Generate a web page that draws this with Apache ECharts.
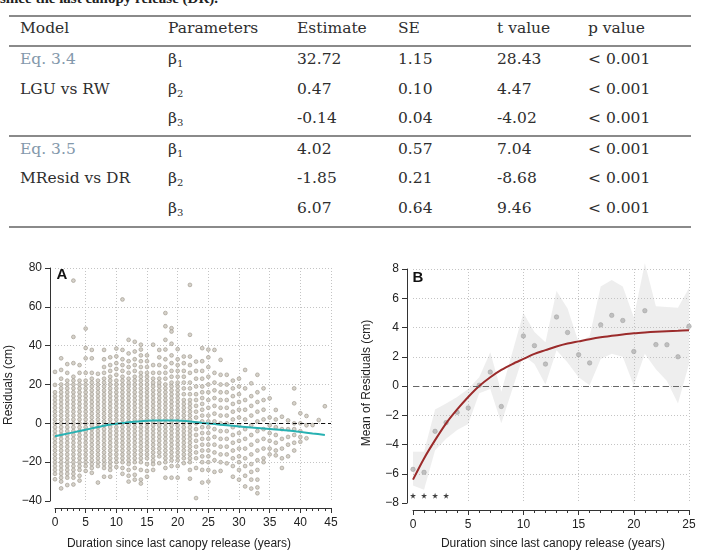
<!DOCTYPE html>
<html>
<head>
<meta charset="utf-8">
<script src="https://cdn.jsdelivr.net/npm/echarts@6/dist/echarts.min.js"></script>
<style>
body { margin: 0; background: #fff; }
#page { position: relative; width: 701px; height: 551px; overflow: hidden; font-family: "DejaVu Serif", serif; color: #2e2e2e; }
.cell { position: absolute; font-size: 15.5px; line-height: 18px; white-space: nowrap; transform: translateY(-50%); }
.eq { color: #8398ab; }
.rule { position: absolute; left: 9px; width: 682px; height: 2px; background: #8a8a8a; }
sub { font-size: 10px; line-height: 0; vertical-align: -3px; }
#cut { position: absolute; left: 0; top: -9px; font: bold 15px "Liberation Serif", serif; line-height: 15px; color: #222; white-space: nowrap; }
#chart { position: absolute; left: 0; top: 0; width: 701px; height: 551px; }
</style>
</head>
<body>
<div id="page">
  <div id="cut">since the last canopy release (DR).</div>
  <div id="table"></div>
  <div id="chart"></div>
</div>
<script>
// table
const tableHeader = ["Model", "Parameters", "Estimate", "SE", "t value", "p value"];
const tableModel = ["Eq. 3.4", "LGU vs RW", "", "Eq. 3.5", "MResid vs DR", ""];
const tableParam = ["1", "2", "3", "1", "2", "3"];
const tableEstimate = ["32.72", "0.47", "-0.14", "4.02", "-1.85", "6.07"];
const tableSE = ["1.15", "0.10", "0.04", "0.57", "0.21", "0.64"];
const tableT = ["28.43", "4.47", "-4.02", "7.04", "-8.68", "9.46"];
const tableP = ["< 0.001", "< 0.001", "< 0.001", "< 0.001", "< 0.001", "< 0.001"];

// panel A: residuals per year (index = years since release)
const residA = [
  "26.5 19.8 16 14 12 10 8 6 4 2 0 -2 -4 -6 -8 -10 -12 -14 -16 -18 -20 -22 -24 -26 -28.8",
  "33.5 27.5 23 20 18 16 14 12 10 8 6 4 2 0 -2 -4 -6 -8 -10 -12 -14 -16 -18 -20 -22 -24 -26 -28 -30 -33.5",
  "30.5 26 22 20 18 16 14 12 10 8 6 4 2 0 -2 -4 -6 -8 -10 -12 -14 -16 -18 -20 -22 -24 -26 -28 -31.8",
  "73.5 44.5 31 24 22 20 18 16 14 12 10 8 6 4 2 0 -2 -4 -6 -8 -10 -12 -14 -16 -18 -20 -22 -24 -26 -28 -31.5",
  "30 26 22 20 18 16 14 12 10 8 6 4 2 0 -2 -4 -6 -8 -10 -12 -14 -16 -18 -20 -22 -24 -27 -29.5",
  "48.8 38.8 33.5 26 22 20 18 16 14 12 10 8 6 4 2 0 -2 -4 -6 -8 -10 -12 -14 -16 -18 -20 -22 -24.5",
  "37.8 33.5 26 23 21 19 17 15 13 11 9 7 5 3 1 -1 -3 -5 -7 -9 -11 -13 -15 -17 -19 -21 -23 -25.5",
  "25.5 22 20 18 16 14 12 10 8 6 4 2 0 -2 -4 -6 -8 -10 -12 -14 -16 -18 -20 -22 -30.5",
  "37.8 33 29 26 23 21 19 17 15 13 11 9 7 5 3 1 -1 -3 -5 -7 -9 -11 -13 -15 -17 -19 -21 -23 -27.5",
  "34 30 27 24 22 20 18 16 14 12 10 8 6 4 2 0 -2 -4 -6 -8 -10 -12 -14 -16 -18 -20 -22 -24 -27.5",
  "38.5 34.5 31 28 25 22 20 18 16 14 12 10 8 6 4 2 0 -2 -4 -6 -8 -10 -12 -14 -16 -18 -20 -22.5",
  "63.8 37.8 33 30 27 24 22 20 18 16 14 12 10 8 6 4 2 0 -2 -4 -6 -8 -10 -12 -14 -16 -18 -20 -23 -26",
  "43 36 32 29 26 23 21 19 17 15 13 11 9 7 5 3 1 -1 -3 -5 -7 -9 -11 -13 -15 -17 -19 -21 -24 -27 -30",
  "42 37 33 30 27 24 22 20 18 16 14 12 10 8 6 4 2 0 -2 -4 -6 -8 -10 -12 -14 -16 -18 -20 -23 -26.5 -29",
  "40.5 38 35 32 29 26 24 22 20 18 16 14 12 10 8 6 4 2 0 -2 -4 -6 -8 -10 -12 -14 -16 -18 -20 -24 -29 -31",
  "35 32 29 26 24 22 20 18 16 14 12 10 8 6 4 2 0 -2 -4 -6 -8 -10 -12 -14 -16 -18 -21 -24.5 -27.5",
  "40.5 30 26 23 21 19 17 15 13 11 9 7 5 3 1 -1 -3 -5 -7 -9 -11 -13 -15 -17 -19 -21 -24",
  "37.8 34 30 26 23 21 19 17 15 13 11 9 7 5 3 1 -1 -3 -5 -7 -9 -11 -13 -15 -17 -20.5",
  "56.8 50 43 38 33 29 26 23 20 18 16 14 12 10 8 6 4 2 0 -2 -4 -6 -8 -10 -12 -14 -16 -18 -20 -23 -28",
  "49 47.3 41 35 31 27 24 21 19 17 15 13 11 9 7 5 3 1 -1 -3 -5 -7 -9 -11 -13 -15 -17 -19 -22 -28",
  "38.2 33 30 27 24 21 19 17 15 13 11 9 7 5 3 1 -1 -3 -5 -7 -9 -11 -13 -15 -17 -19 -22 -28",
  "34.4 31 27 24 21 18 15 12 10 8 6 4 2 0 -2 -4 -6 -8 -10 -12 -14 -16 -18 -20.5",
  "71.3 45.6 34.4 30 26 21 18 15 12 10 8 6 4 2 0 -2 -4 -6 -8 -10 -12 -14 -16 -18 -20 -24 -28.5",
  "31.8 27 23 19 15 12 9 6 3 0 -3 -6 -9 -12 -15 -18 -23 -38.5",
  "38.7 32 27 23 19 16 13 10 7 4 1 -2 -5 -8 -11 -14 -17 -20 -24 -30.5",
  "38 34 29 24 20 16 12 8 4 1 -2 -5 -8 -11 -14 -17 -20 -24 -30",
  "37.8 26 21 17 13 9 5 1 -3 -7 -11 -15 -19 -25",
  "32.7 25 20 16 12 8 4 0 -4 -8 -12 -16 -20 -24.5",
  "25 20 16 12 8 4 0 -4 -8 -12 -16 -20.6",
  "22 18 14 10 6 2 -2 -6 -10 -14 -18 -22 -27.5",
  "23 19 15 11 7 3 -1 -5 -9 -13 -17 -20 -24 -29",
  "27.5 18 12 7 2 -3 -8 -13 -18 -22 -27 -32.5",
  "20.6 14 9 4 -1 -6 -11 -16 -21 -25 -29 -33.6",
  "25 16 11 6 1 -4 -9 -14 -19 -24 -29 -33 -36",
  "18 12 7 2 -3 -8 -13 -18 -20",
  "12.9 3 -1 -5 -9 -13 -16",
  "6.9 2 -2 -6 -10 -14 -16.5",
  "3.4 -3 -8 -13 -18 -23",
  "1.5 -3 -7 -11 -17",
  "18 10.3 0 -3 -6 -10 -14",
  "5.2 0 -4 -7 -9.5",
  "3.8 -1 -7.7",
  "-0.9",
  "1.7",
  "8.8"
];
const fitAX = [0, 2, 4, 6, 8, 10, 12, 14, 16, 18, 20, 22, 24, 26, 28, 30, 32, 34, 36, 38, 40, 42, 44];
const fitAY = [-6.7, -5.3, -4.0, -2.6, -1.2, -0.2, 0.6, 1.1, 1.4, 1.5, 1.4, 0.9, 0.2, -0.4, -1.0, -1.6, -2.2, -2.7, -3.2, -3.7, -4.4, -5.2, -6.0];

// panel B: mean residuals per year
const meanBX = [0, 1, 2, 3, 4, 5, 6, 7, 8, 10, 11, 12, 13, 14, 15, 16, 17, 18, 19, 20, 21, 22, 23, 24, 25];
const meanBY = [-5.7, -5.9, -3.1, -2.5, -1.8, -1.5, 0.05, 0.95, -1.4, 3.42, 2.76, 1.5, 4.72, 3.66, 2.14, 1.58, 4.18, 4.83, 4.48, 2.36, 5.15, 2.83, 2.82, 2.0, 4.08];
const bandHi = [-4.5, -4.5, -1.6, -1.2, -0.75, -0.2, 0.6, 2.3, -0.4, 5.0, 3.7, 3.0, 6.5, 5.3, 3.0, 3.4, 6.8, 7.25, 6.8, 4.7, 8.4, 5.45, 5.4, 5.35, 6.7];
const bandLo = [-6.8, -7.1, -4.4, -3.6, -3.0, -2.6, -0.5, -0.2, -2.55, 2.1, 1.5, 0.1, 2.45, 1.6, 0.6, 0.05, 1.85, 2.2, 2.0, 0.03, 2.2, 1.15, 0.35, -1.2, 1.5];
const fitBX = [0, 1, 2, 3, 4, 5, 6, 7, 8, 9, 10, 11, 12, 13, 14, 15, 16, 17, 18, 19, 20, 21, 22, 23, 24, 25];
const fitBY = [-6.4, -4.95, -3.7, -2.55, -1.6, -0.75, 0.0, 0.6, 1.1, 1.5, 1.85, 2.2, 2.45, 2.7, 2.9, 3.05, 3.2, 3.33, 3.43, 3.52, 3.6, 3.66, 3.71, 3.75, 3.78, 3.82];
const starX = [0, 1, 2, 3];
const starY = -7.5;

// build table
const colX = [20, 168, 297, 398, 497, 588];
const headY = 28;
const rowY = [59, 89, 118, 149, 178, 208];
const ruleY = [15, 45, 135, 226];
const tbl = document.getElementById("table");
let html = "";
ruleY.forEach(y => { html += `<div class="rule" style="top:${y}px"></div>`; });
tableHeader.forEach((t, i) => { html += `<div class="cell" style="left:${colX[i]}px;top:${headY}px">${t}</div>`; });
rowY.forEach((y, r) => {
  const cls = tableModel[r].startsWith("Eq") ? "cell eq" : "cell";
  const vals = [tableModel[r], "β<sub>" + tableParam[r] + "</sub>", tableEstimate[r], tableSE[r], tableT[r], tableP[r]];
  vals.forEach((v, i) => {
    html += `<div class="${i === 0 ? cls : "cell"}" style="left:${colX[i]}px;top:${y}px">${v}</div>`;
  });
});
tbl.innerHTML = html;

// chart data
const pointsA = [];
residA.forEach((s, yr) => s.split(" ").forEach(v => pointsA.push([yr, +v])));
const lineA = fitAX.map((x, i) => [x, fitAY[i]]);
const pointsB = meanBX.map((x, i) => [x, meanBY[i]]);
const lineB = fitBX.map((x, i) => [x, fitBY[i]]);
const stars = starX.map(x => [x, starY]);

const sans = "Liberation Sans, Arial, sans-serif";
const minus = v => (v < 0 ? "\u2212" + Math.abs(v) : String(v));
const dotted = { type: [1, 2], color: "#c4c4c4", width: 1 };
const axisCol = "#333";

function xAx(grid, max) {
  return {
    gridIndex: grid, type: "value", min: 0, max: max, interval: 5, offset: 7,
    axisLine: { show: true, onZero: false, lineStyle: { color: axisCol } },
    axisTick: { show: true, length: 5, lineStyle: { color: axisCol } },
    minorTick: { show: true, splitNumber: 5, length: 3, lineStyle: { color: axisCol } },
    axisLabel: { margin: 9, fontFamily: sans, fontSize: 12, color: "#222" },
    splitLine: { show: true, showMinLine: false, lineStyle: dotted }
  };
}
function yAx(grid, min, max, step, off) {
  return {
    gridIndex: grid, type: "value", min: min, max: max, interval: step, offset: off,
    axisLine: { show: true, onZero: false, lineStyle: { color: axisCol } },
    axisTick: { show: true, length: 5, lineStyle: { color: axisCol } },
    axisLabel: { margin: 8, fontFamily: sans, fontSize: 12, color: "#222", formatter: minus },
    splitLine: { show: true, showMinLine: false, lineStyle: dotted }
  };
}

const chart = echarts.init(document.getElementById("chart"));
chart.setOption({
  animation: false,
  grid: [
    { left: 55, top: 268, width: 276, height: 233 },
    { left: 413, top: 269, width: 276, height: 234 }
  ],
  xAxis: [xAx(0, 45), xAx(1, 25)],
  yAxis: [yAx(0, -40, 80, 20, 5), yAx(1, -8, 8, 2, 6)],
  series: [
    {
      type: "scatter", xAxisIndex: 0, yAxisIndex: 0, data: pointsA, symbolSize: 3.8,
      itemStyle: { color: "#cbc6bc", borderColor: "#9f998e", borderWidth: 0.8 }, z: 2
    },
    {
      type: "line", xAxisIndex: 0, yAxisIndex: 0, data: lineA, smooth: 0.3, showSymbol: false,
      lineStyle: { color: "#27b1b2", width: 2 }, z: 4,
      markLine: {
        silent: true, symbol: "none", label: { show: false },
        lineStyle: { color: "#111", type: [4, 3], width: 1 }, data: [{ yAxis: 0 }]
      }
    },
    {
      type: "custom", xAxisIndex: 1, yAxisIndex: 1, data: [[0, 0]], z: 1,
      renderItem: (params, api) => {
        const top = meanBX.map((x, i) => api.coord([x, bandHi[i]]));
        const bot = meanBX.map((x, i) => api.coord([x, bandLo[i]])).reverse();
        return { type: "polygon", shape: { points: top.concat(bot) }, style: { fill: "rgba(195,195,195,0.28)" } };
      }
    },
    {
      type: "scatter", xAxisIndex: 1, yAxisIndex: 1, data: pointsB, symbolSize: 4.5,
      itemStyle: { color: "#b4b4b4", borderColor: "#999", borderWidth: 0.6 }, z: 2,
      markLine: {
        silent: true, symbol: "none", label: { show: false },
        lineStyle: { color: "#666", type: [6, 4], width: 1 }, data: [{ yAxis: 0 }]
      }
    },
    {
      type: "scatter", xAxisIndex: 1, yAxisIndex: 1, data: stars, symbolSize: 6,
      symbol: "path://M50,0 L61,35 98,35 68,57 79,91 50,70 21,91 32,57 2,35 39,35Z",
      itemStyle: { color: "#111" }, z: 3
    },
    {
      type: "line", xAxisIndex: 1, yAxisIndex: 1, data: lineB, smooth: 0.3, showSymbol: false,
      lineStyle: { color: "#9b2b2b", width: 2 }, z: 4
    }
  ],
  graphic: [
    { type: "text", x: 62, y: 275, style: { text: "A", font: "bold 15px " + sans, fill: "#111", textAlign: "center", textVerticalAlign: "middle" } },
    { type: "text", x: 418, y: 278, style: { text: "B", font: "bold 15px " + sans, fill: "#111", textAlign: "center", textVerticalAlign: "middle" } },
    { type: "text", x: 9, y: 385, rotation: Math.PI / 2, style: { text: "Residuals (cm)", font: "12px " + sans, fill: "#222", textAlign: "center", textVerticalAlign: "middle" } },
    { type: "text", x: 367, y: 383, rotation: Math.PI / 2, style: { text: "Mean of Residuals (cm)", font: "12px " + sans, fill: "#222", textAlign: "center", textVerticalAlign: "middle" } },
    { type: "text", x: 179, y: 544, style: { text: "Duration since last canopy release (years)", font: "12px " + sans, fill: "#222", textAlign: "center", textVerticalAlign: "middle" } },
    { type: "text", x: 553, y: 544, style: { text: "Duration since last canopy release (years)", font: "12px " + sans, fill: "#222", textAlign: "center", textVerticalAlign: "middle" } }
  ]
});
</script>
</body>
</html>
